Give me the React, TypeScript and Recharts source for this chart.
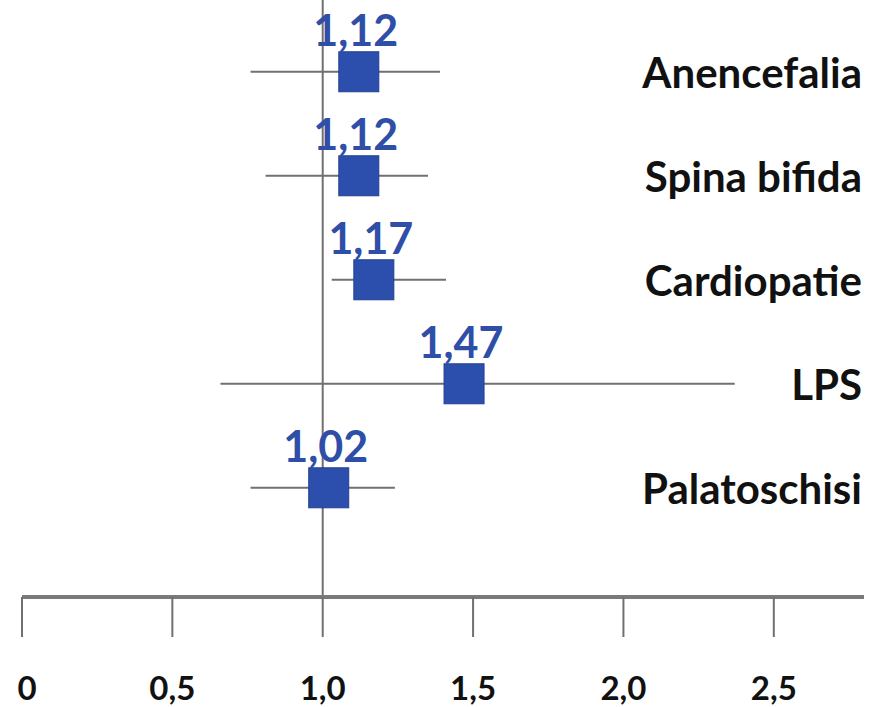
import React from "react";
import {
  ScatterChart,
  Scatter,
  XAxis,
  YAxis,
  ErrorBar,
  ReferenceLine,
} from "recharts";

const categories = ["Anencefalia", "Spina bifida", "Cardiopatie", "LPS", "Palatoschisi"];
const oddsRatios = [1.12, 1.12, 1.17, 1.47, 1.02];
const ciLow = [0.76, 0.81, 1.03, 0.66, 0.76];
const ciHigh = [1.39, 1.35, 1.41, 2.37, 1.24];
const rowPositions = [5, 4, 3, 2, 1];
const xTicks = [0, 0.5, 1, 1.5, 2, 2.5];

const FONT = "Lato, 'Open Sans', sans-serif";
const BLUE = "#2C4FAE";
const GREY = "#707070";

const data = categories.map((name, i) => ({
  name,
  or: oddsRatios[i],
  row: rowPositions[i],
  ci: [oddsRatios[i] - ciLow[i], ciHigh[i] - oddsRatios[i]],
}));

const fmt = (v: number) => v.toFixed(2).replace(".", ",");
const fmtTick = (v: number) => (v === 0 ? "0" : v.toFixed(1).replace(".", ","));

const SquareMarker = (props: any) => {
  const { cx, cy, payload } = props;
  return (
    <g>
      <rect x={cx - 20} y={cy - 20} width={40} height={40} fill={BLUE} stroke="#22408f" strokeWidth={1} />
      <text
        x={cx - 3}
        y={cy - 42}
        textAnchor="middle"
        dominantBaseline="central"
        fill="#2E4EA8"
        fontFamily={FONT}
        fontWeight={700}
        fontSize={43}
      >
        {fmt(payload.or)}
      </text>
    </g>
  );
};

const XTick = (props: any) => {
  const { x, y, payload } = props;
  return (
    <text
      x={payload.value === 0 ? x + 5 : x}
      y={y + 48}
      textAnchor="middle"
      dominantBaseline="central"
      fill="#111"
      fontFamily={FONT}
      fontWeight={700}
      fontSize={33}
    >
      {fmtTick(payload.value)}
    </text>
  );
};

const YTick = (props: any) => {
  const { x, y, payload } = props;
  const idx = rowPositions.indexOf(payload.value);
  return (
    <text
      x={x}
      y={y}
      textAnchor="end"
      dominantBaseline="central"
      fill="#111"
      fontFamily={FONT}
      fontWeight={700}
      fontSize={42}
    >
      {categories[idx]}
    </text>
  );
};

export default function App() {
  return (
    <div style={{ position: "absolute", left: 0, top: 0, width: 885, height: 707, background: "#fff" }}>
      <ScatterChart width={885} height={707} margin={{ top: 0, right: 21, left: 22, bottom: 0 }}>
        <XAxis
          type="number"
          dataKey="or"
          domain={[0, 2.8]}
          ticks={xTicks}
          height={110}
          tickSize={40}
          axisLine={{ stroke: "#7a7a7a", strokeWidth: 4 }}
          tickLine={{ stroke: GREY, strokeWidth: 2 }}
          tick={<XTick />}
          allowDataOverflow
        />
        <YAxis
          type="number"
          dataKey="row"
          domain={[-0.05, 5.69]}
          ticks={rowPositions}
          orientation="right"
          mirror
          axisLine={false}
          tickLine={false}
          tickSize={0}
          tickMargin={2}
          interval={0}
          tick={<YTick />}
        />
        <ReferenceLine x={1} stroke={GREY} strokeWidth={2} />
        <Scatter data={data} shape={<SquareMarker />} isAnimationActive={false}>
          <ErrorBar dataKey="ci" direction="x" width={0} stroke={GREY} strokeWidth={2} />
        </Scatter>
      </ScatterChart>
    </div>
  );
}
